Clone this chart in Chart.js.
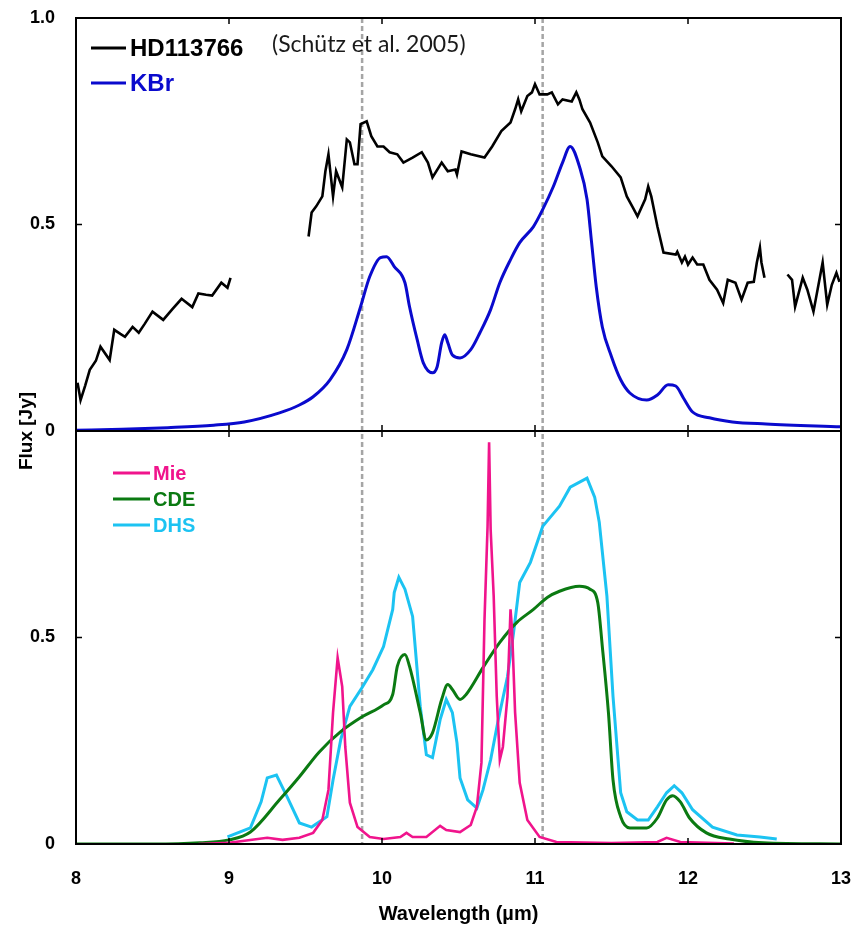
<!DOCTYPE html>
<html>
<head>
<meta charset="utf-8">
<title>HD113766 vs KBr</title>
<script src="https://cdn.jsdelivr.net/npm/chart.js@4.4.1/dist/chart.umd.min.js"></script>
<style>
  html, body { margin: 0; padding: 0; background: #fff; }
  #wrap { width: 862px; height: 927px; }
</style>
</head>
<body>
<div id="wrap"><canvas id="fluxChart" width="862" height="927"></canvas></div>
<script>
// ── Data ─────────────────────────────────────────────────────────────────────

const xTicks = [8, 9, 10, 11, 12, 13];
const yTicks = [0, 0.5, 1];
const markerLines = [9.87, 11.05];   // grey dashed guides

// top panel: observed spectrum, three pieces split by nulls
const hdWave = [8.01, 8.03, 8.06, 8.09, 8.13, 8.16, 8.22, 8.25, 8.29, 8.32, 8.37, 8.41, 8.45, 8.50,
  8.57, 8.63, 8.69, 8.76, 8.80, 8.85, 8.89, 8.95, 8.99, 9.01, 9.25,
  9.52, 9.54, 9.57, 9.61, 9.63, 9.65, 9.68, 9.70, 9.74, 9.77, 9.79, 9.82, 9.84, 9.86, 9.90, 9.93,
  9.97, 10.01, 10.05, 10.10, 10.14, 10.20, 10.26, 10.30, 10.33, 10.39, 10.43, 10.48, 10.49, 10.52,
  10.58, 10.67, 10.72, 10.78, 10.84, 10.87, 10.89, 10.91, 10.95, 10.98, 11.00, 11.03, 11.08, 11.11,
  11.15, 11.18, 11.24, 11.27, 11.29, 11.31, 11.36, 11.41, 11.44, 11.50, 11.56, 11.60, 11.64, 11.67,
  11.72, 11.74, 11.76, 11.80, 11.84, 11.92, 11.93, 11.96, 11.98, 12.00, 12.03, 12.06, 12.10, 12.14,
  12.19, 12.23, 12.26, 12.31, 12.35, 12.39, 12.43, 12.45, 12.47, 12.48, 12.50, 12.58,
  12.65, 12.68, 12.70, 12.75, 12.78, 12.82, 12.88, 12.91, 12.94, 12.97, 12.99];
const hdFlux = [0.117, 0.075, 0.110, 0.148, 0.170, 0.204, 0.172, 0.245, 0.235, 0.228, 0.252, 0.238, 0.260, 0.289,
  0.269, 0.295, 0.320, 0.300, 0.333, 0.330, 0.328, 0.359, 0.347, 0.371, null,
  0.471, 0.529, 0.544, 0.568, 0.629, 0.670, 0.568, 0.629, 0.590, 0.706, 0.699, 0.646, 0.646, 0.743, 0.750, 0.714,
  0.689, 0.689, 0.675, 0.670, 0.650, 0.662, 0.675, 0.650, 0.614, 0.650, 0.629, 0.633, 0.621, 0.677,
  0.670, 0.662, 0.689, 0.726, 0.747, 0.779, 0.803, 0.774, 0.811, 0.820, 0.840, 0.815, 0.815, 0.820,
  0.791, 0.803, 0.798, 0.820, 0.803, 0.779, 0.747, 0.699, 0.665, 0.641, 0.614, 0.568, 0.541, 0.520,
  0.561, 0.592, 0.568, 0.495, 0.432, 0.427, 0.434, 0.408, 0.422, 0.403, 0.420, 0.403, 0.403, 0.366,
  0.342, 0.310, 0.366, 0.359, 0.318, 0.359, 0.361, 0.408, 0.444, 0.408, 0.371, null,
  0.379, 0.366, 0.301, 0.371, 0.342, 0.289, 0.408, 0.306, 0.354, 0.383, 0.361];

const kbrWave = [8.00, 8.30, 8.60, 8.90, 9.10, 9.33, 9.46, 9.55, 9.66, 9.77, 9.86, 9.92, 9.99, 10.03,
  10.08, 10.15, 10.18, 10.23, 10.27, 10.33, 10.36, 10.39, 10.41, 10.43, 10.46, 10.51, 10.58, 10.64,
  10.71, 10.77, 10.84, 10.90, 10.99, 11.05, 11.12, 11.18, 11.23, 11.29, 11.34, 11.37, 11.40, 11.44,
  11.50, 11.56, 11.62, 11.73, 11.80, 11.87, 11.92, 11.97, 12.03, 12.14, 12.29, 12.51, 13.00];
const kbrFlux = [0.002, 0.004, 0.008, 0.014, 0.022, 0.044, 0.063, 0.083, 0.124, 0.197, 0.301, 0.374, 0.420, 0.422,
  0.398, 0.359, 0.301, 0.221, 0.165, 0.141, 0.155, 0.214, 0.233, 0.214, 0.184, 0.177, 0.197, 0.238,
  0.294, 0.359, 0.415, 0.456, 0.495, 0.536, 0.592, 0.650, 0.689, 0.641, 0.561, 0.456, 0.350, 0.252,
  0.180, 0.124, 0.092, 0.075, 0.087, 0.112, 0.109, 0.080, 0.046, 0.032, 0.022, 0.017, 0.010];

// bottom panel: model spectra
const mieWave = [8.80, 9.00, 9.25, 9.35, 9.46, 9.55, 9.61, 9.65, 9.68, 9.71, 9.74, 9.76, 9.79, 9.84,
  9.92, 10.01, 10.12, 10.16, 10.20, 10.29, 10.38, 10.42, 10.51, 10.58, 10.62, 10.65, 10.67, 10.69,
  10.70, 10.71, 10.73, 10.75, 10.77, 10.79, 10.82, 10.84, 10.85, 10.87, 10.90, 10.95, 11.03, 11.14,
  11.50, 11.80, 11.86, 11.95, 12.30];
const mieFlux = [0.000, 0.003, 0.015, 0.010, 0.015, 0.027, 0.058, 0.131, 0.318, 0.451, 0.381, 0.235, 0.100, 0.041,
  0.017, 0.012, 0.017, 0.027, 0.017, 0.017, 0.044, 0.034, 0.029, 0.046, 0.090, 0.197, 0.544, 0.769,
  0.973, 0.762, 0.600, 0.357, 0.204, 0.235, 0.357, 0.568, 0.519, 0.318, 0.148, 0.058, 0.017, 0.005,
  0.002, 0.005, 0.015, 0.005, 0.001];

const cdeWave = [8.00, 8.50, 8.81, 9.00, 9.14, 9.33, 9.46, 9.59, 9.73, 9.87, 10.01, 10.07, 10.10, 10.15,
  10.18, 10.25, 10.29, 10.33, 10.39, 10.43, 10.46, 10.51, 10.55, 10.66, 10.77, 10.88, 10.99, 11.08,
  11.16, 11.29, 11.36, 11.41, 11.44, 11.48, 11.51, 11.56, 11.62, 11.73, 11.80, 11.86, 11.90, 11.95,
  12.01, 12.12, 12.27, 12.49, 13.00];
const cdeFlux = [0.000, 0.000, 0.003, 0.010, 0.029, 0.107, 0.163, 0.223, 0.272, 0.308, 0.337, 0.362, 0.430, 0.459,
  0.430, 0.318, 0.252, 0.269, 0.350, 0.386, 0.374, 0.350, 0.362, 0.427, 0.488, 0.536, 0.568, 0.597,
  0.612, 0.624, 0.617, 0.585, 0.478, 0.318, 0.155, 0.066, 0.039, 0.039, 0.063, 0.107, 0.117, 0.102,
  0.063, 0.027, 0.012, 0.003, 0.000];

const dhsWave = [8.99, 9.14, 9.21, 9.25, 9.31, 9.38, 9.46, 9.54, 9.64, 9.68, 9.73, 9.79, 9.87, 9.94,
  10.01, 10.07, 10.08, 10.11, 10.15, 10.20, 10.25, 10.29, 10.33, 10.38, 10.42, 10.46, 10.49, 10.51,
  10.56, 10.62, 10.66, 10.71, 10.76, 10.82, 10.86, 10.90, 10.97, 11.05, 11.16, 11.23, 11.34, 11.39,
  11.42, 11.47, 11.51, 11.56, 11.60, 11.67, 11.74, 11.80, 11.86, 11.91, 11.96, 12.03, 12.16, 12.32,
  12.47, 12.58];
const dhsFlux = [0.017, 0.039, 0.102, 0.160, 0.167, 0.114, 0.051, 0.041, 0.066, 0.155, 0.252, 0.333, 0.379, 0.422,
  0.478, 0.568, 0.609, 0.646, 0.617, 0.551, 0.333, 0.216, 0.209, 0.301, 0.350, 0.318, 0.245, 0.160,
  0.107, 0.087, 0.131, 0.204, 0.301, 0.405, 0.512, 0.633, 0.682, 0.769, 0.818, 0.864, 0.886, 0.840,
  0.779, 0.600, 0.357, 0.124, 0.078, 0.058, 0.058, 0.090, 0.124, 0.141, 0.124, 0.083, 0.041, 0.022,
  0.017, 0.012];

// ── Helpers ──────────────────────────────────────────────────────────────────

const FONT = "'Liberation Sans', Arial, sans-serif";

function zip(xs, ys) {
    return xs.map((x, i) => ({ x: x, y: ys[i] }));
}

function series(label, xs, ys, color, axis, width, smooth) {
    return {
        label: label,
        data: zip(xs, ys),
        yAxisID: axis,
        borderColor: color,
        backgroundColor: color,
        borderWidth: width,
        pointRadius: 0,
        spanGaps: false,
        tension: 0,
        cubicInterpolationMode: smooth ? 'monotone' : 'default'
    };
}

function tickLabel(v) {
    return v === 0 ? '0' : v.toFixed(1);
}

// ── Decorations: frame, inward ticks, guides, legends, titles ────────────────

const panelDecor = {
    id: 'panelDecor',
    beforeDraw(chart) {
        const ctx = chart.ctx;
        ctx.save();
        ctx.fillStyle = '#fff';
        ctx.fillRect(0, 0, chart.width, chart.height);
        ctx.restore();
    },
    beforeDatasetsDraw(chart) {
        const { ctx, chartArea: a, scales: { x } } = chart;
        ctx.save();
        ctx.strokeStyle = '#a5a5a5';
        ctx.lineWidth = 2.5;
        ctx.setLineDash([5, 3]);
        markerLines.forEach(w => {
            const px = x.getPixelForValue(w);
            ctx.beginPath();
            ctx.moveTo(px, a.top);
            ctx.lineTo(px, a.bottom);
            ctx.stroke();
        });
        ctx.restore();
    },
    afterDatasetsDraw(chart) {
        const { ctx, chartArea: a, scales: { x, yTop, yBot } } = chart;
        const mid = yTop.getPixelForValue(0);
        const T = 6;
        ctx.save();
        ctx.strokeStyle = '#000';
        ctx.lineWidth = 2;
        ctx.strokeRect(a.left, a.top, a.right - a.left, a.bottom - a.top);
        ctx.beginPath();
        ctx.moveTo(a.left, mid);
        ctx.lineTo(a.right, mid);
        ctx.stroke();

        ctx.lineWidth = 1.5;
        ctx.beginPath();
        xTicks.slice(1, -1).forEach(v => {
            const px = x.getPixelForValue(v);
            ctx.moveTo(px, a.top);        ctx.lineTo(px, a.top + T);
            ctx.moveTo(px, mid - T);      ctx.lineTo(px, mid + T);
            ctx.moveTo(px, a.bottom);     ctx.lineTo(px, a.bottom - T);
        });
        [yTop, yBot].forEach(s => {
            const py = s.getPixelForValue(0.5);
            ctx.moveTo(a.left, py);  ctx.lineTo(a.left + T, py);
            ctx.moveTo(a.right, py); ctx.lineTo(a.right - T, py);
        });
        ctx.stroke();
        ctx.restore();
    },
    afterDraw(chart) {
        const ctx = chart.ctx;
        const sets = chart.data.datasets;
        ctx.save();
        ctx.textBaseline = 'middle';
        ctx.textAlign = 'left';

        // top legend
        sets.filter(d => d.yAxisID === 'yTop').forEach((d, i) => {
            const y = 48 + i * 35;
            ctx.strokeStyle = d.borderColor;
            ctx.lineWidth = 3;
            ctx.beginPath(); ctx.moveTo(91, y); ctx.lineTo(126, y); ctx.stroke();
            ctx.fillStyle = d.borderColor;
            ctx.font = `bold 24px ${FONT}`;
            ctx.fillText(d.label, 130, y + 1);
        });

        // bottom legend
        sets.filter(d => d.yAxisID === 'yBot').forEach((d, i) => {
            const y = 473 + i * 26;
            ctx.strokeStyle = d.borderColor;
            ctx.lineWidth = 3;
            ctx.beginPath(); ctx.moveTo(113, y); ctx.lineTo(150, y); ctx.stroke();
            ctx.fillStyle = d.borderColor;
            ctx.font = `bold 20px ${FONT}`;
            ctx.fillText(d.label, 153, y + 1);
        });

        // reference note
        ctx.fillStyle = '#1a1a1a';
        ctx.font = "23px Lato, 'Open Sans', sans-serif";
        ctx.fillText('(Schütz et al. 2005)', 272, 45);

        // axis titles
        ctx.fillStyle = '#000';
        ctx.font = `bold 20px ${FONT}`;
        ctx.textAlign = 'center';
        ctx.fillText('Wavelength (µm)', (chart.chartArea.left + chart.chartArea.right) / 2, 914);

        ctx.translate(27, chart.scales.yTop.getPixelForValue(0));
        ctx.rotate(-Math.PI / 2);
        ctx.font = `bold 19px ${FONT}`;
        ctx.fillText('Flux [Jy]', 0, 0);
        ctx.restore();
    }
};

// ── Chart ────────────────────────────────────────────────────────────────────

function yScale(hideTop) {
    return {
        type: 'linear',
        position: 'left',
        stack: 'flux',
        stackWeight: 1,
        min: 0,
        max: 1,
        afterBuildTicks: s => { s.ticks = yTicks.map(v => ({ value: v })); },
        afterFit: s => { s.width = 76; s.paddingTop = 0; s.paddingBottom = 0; },
        grid: { display: false, drawTicks: false },
        border: { display: false },
        ticks: {
            color: '#000',
            padding: 21,
            font: { family: FONT, size: 18, weight: 'bold' },
            callback: v => (hideTop && v === 1) ? '' : tickLabel(v)
        }
    };
}

function initFluxChart() {
    const ctx = document.getElementById('fluxChart').getContext('2d');

    new Chart(ctx, {
        type: 'line',
        data: {
            datasets: [
                series('HD113766', hdWave, hdFlux, '#000000', 'yTop', 2.6, false),
                series('KBr', kbrWave, kbrFlux, '#0a0acd', 'yTop', 3, true),
                series('Mie', mieWave, mieFlux, '#f0148c', 'yBot', 2.6, false),
                series('CDE', cdeWave, cdeFlux, '#0b7a12', 'yBot', 3, true),
                series('DHS', dhsWave, dhsFlux, '#1cc3f2', 'yBot', 3, false)
            ]
        },
        plugins: [panelDecor],
        options: {
            responsive: false,
            animation: false,
            devicePixelRatio: 1,
            layout: { padding: { top: 18, right: 21, left: 0, bottom: 0 } },
            plugins: {
                legend: { display: false },
                tooltip: { enabled: false }
            },
            scales: {
                x: {
                    type: 'linear',
                    min: 8,
                    max: 13,
                    afterBuildTicks: s => { s.ticks = xTicks.map(v => ({ value: v })); },
                    afterFit: s => { s.height = 83; s.paddingLeft = 0; s.paddingRight = 0; },
                    grid: { display: false, drawTicks: false },
                    border: { display: false },
                    ticks: {
                        color: '#000',
                        padding: 24,
                        maxRotation: 0,
                        font: { family: FONT, size: 18, weight: 'bold' }
                    }
                },
                // the stack places the first-listed axis at the bottom
                yBot: yScale(true),
                yTop: yScale(false)
            }
        }
    });
}

initFluxChart();
</script>
</body>
</html>
